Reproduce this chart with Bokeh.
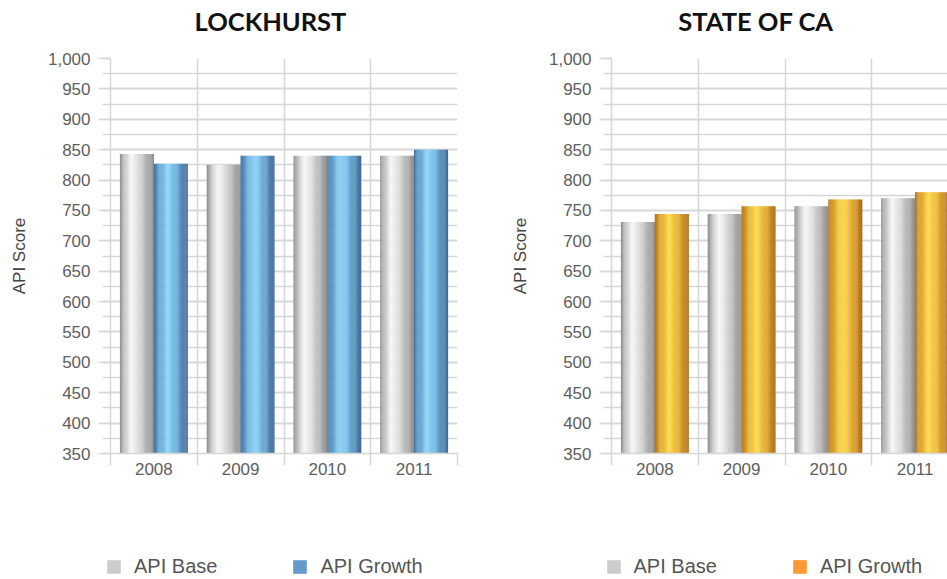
from bokeh.plotting import figure
from bokeh.layouts import row, column
from bokeh.models import (FixedTicker, SingleIntervalTicker, NumeralTickFormatter, Range1d,
                          Legend, LegendItem, Label)
from bokeh.embed import file_html
from bokeh.resources import INLINE

# ---------------- data ----------------
years = ["2008", "2009", "2010", "2011"]
lock_base = [843, 825, 840, 840]
lock_growth = [827, 840, 840, 850]
ca_base = [731, 744, 757, 770]
ca_growth = [744, 757, 768, 780]
series_names = ["API Base", "API Growth"]
titles = ["LOCKHURST", "STATE OF CA"]
y_label = "API Score"

# ---------------- styles ----------------
GRID = "#d6d6d6"
TICK_TXT = "#5e5e5e"
FONT = "Liberation Sans"
HEAD_H = 48
MAIN_H = 442
LEG_H = 89

grey_stops = [(0.0, "#8e8e8e"), (0.12, "#bdbdbd"), (0.33, "#f8f8f8"), (0.55, "#dcdcdc"),
              (0.82, "#acacac"), (1.0, "#8c8c8c")]
blue_stops = [(0.0, "#43709a"), (0.15, "#609ecc"), (0.4, "#8ed4f8"), (0.6, "#74bae5"),
              (0.85, "#5085b2"), (1.0, "#426990")]
gold_stops = [(0.0, "#b37318"), (0.15, "#daa02a"), (0.42, "#fdda4b"), (0.65, "#e9b638"),
              (0.88, "#c68720"), (1.0, "#a96a19")]


def hex2rgb(h):
    h = h.lstrip("#")
    return tuple(int(h[i:i + 2], 16) for i in (0, 2, 4))


def interp(stops, t):
    for (t0, c0), (t1, c1) in zip(stops[:-1], stops[1:]):
        if t0 <= t <= t1:
            f = (t - t0) / (t1 - t0) if t1 > t0 else 0
            a, b = hex2rgb(c0), hex2rgb(c1)
            return "#%02x%02x%02x" % tuple(int(round(a[i] + (b[i] - a[i]) * f)) for i in range(3))
    return stops[-1][1]


BAR_W = 0.39
OFFSETS = [-0.195, 0.195]


def gradient_bars(p, values, off, stops, n=30):
    xs, tops, cols = [], [], []
    for i, v in enumerate(values):
        for k in range(n):
            t = (k + 0.5) / n
            xs.append(i + off - BAR_W / 2 + t * BAR_W)
            tops.append(v)
            cols.append(interp(stops, t))
    p.vbar(x=xs, top=tops, bottom=350, width=BAR_W / n * 1.25,
           fill_color=cols, line_color=None)


def blank(width, height):
    f = figure(width=width, height=height, output_backend="svg", toolbar_location=None,
               x_range=Range1d(0, 1), y_range=Range1d(0, 1),
               x_axis_location=None, y_axis_location=None,
               min_border_left=0, min_border_right=0, min_border_top=0, min_border_bottom=0,
               outline_line_color=None)
    f.grid.visible = False
    return f


def header(title, width, cx):
    h = blank(width, HEAD_H)
    h.add_layout(Label(x=cx, y=28, x_units="screen", y_units="screen", text=title,
                       text_align="center", text_baseline="alphabetic", text_font="Lato",
                       text_font_size="25.5px", text_font_style="bold", text_color="#111111"))
    return h


def legend_fig(width, color, lx):
    f = blank(width, LEG_H)
    # legend-only swatches, kept outside the visible range
    r1 = f.quad(left=[-3], right=[-2], top=[-2], bottom=[-3], fill_color="#cccccc",
                line_color=None)
    r2 = f.quad(left=[-3], right=[-2], top=[-2], bottom=[-3], fill_color=color,
                line_color=None)
    leg = Legend(items=[LegendItem(label=series_names[0], renderers=[r1]),
                        LegendItem(label=series_names[1], renderers=[r2])],
                 orientation="horizontal", location=(lx, 1),
                 glyph_width=17, glyph_height=17, label_standoff=12, spacing=74,
                 padding=0, margin=0, border_line_color=None, background_fill_alpha=0,
                 label_text_font=FONT, label_text_font_size="20px",
                 label_text_color="#555555")
    f.add_layout(leg)
    return f


def make_chart(base, growth, growth_stops, width, bl, br, x_end):
    p = figure(width=width, height=MAIN_H, output_backend="svg", toolbar_location=None,
               x_range=Range1d(-0.5, x_end), y_range=Range1d(350, 1000),
               min_border_left=bl, min_border_right=br, min_border_top=10,
               min_border_bottom=37, outline_line_color=None)

    gradient_bars(p, base, OFFSETS[0], grey_stops)
    gradient_bars(p, growth, OFFSETS[1], growth_stops)

    # x axis
    xa = p.xaxis[0]
    xa.ticker = FixedTicker(ticks=list(range(len(years))),
                            minor_ticks=[i - 0.5 for i in range(len(years) + 1)])
    xa.major_label_overrides = {i: y for i, y in enumerate(years)}
    xa.major_tick_out = 0
    xa.major_tick_in = 0
    xa.minor_tick_out = 12
    xa.minor_tick_in = 0
    xa.minor_tick_line_color = GRID
    xa.minor_tick_line_width = 1.5
    xa.axis_line_color = GRID
    xa.axis_line_width = 1.5
    xa.major_label_standoff = -3
    xa.major_label_text_font = FONT
    xa.major_label_text_font_size = "17px"
    xa.major_label_text_color = TICK_TXT

    p.xgrid.ticker = FixedTicker(ticks=[i - 0.5 for i in range(len(years) + 1)])
    p.xgrid.grid_line_color = GRID
    p.xgrid.grid_line_width = 1.5

    # y axis
    ya = p.yaxis[0]
    ya.ticker = SingleIntervalTicker(interval=50, num_minor_ticks=2)
    ya.formatter = NumeralTickFormatter(format="0,0")
    ya.major_tick_out = 12
    ya.major_tick_in = 0
    ya.minor_tick_out = 8
    ya.minor_tick_in = 0
    ya.major_tick_line_color = GRID
    ya.minor_tick_line_color = GRID
    ya.major_tick_line_width = 1.5
    ya.minor_tick_line_width = 1.5
    ya.axis_line_color = GRID
    ya.axis_line_width = 1.5
    ya.major_label_standoff = 8
    ya.major_label_text_font = FONT
    ya.major_label_text_font_size = "17px"
    ya.major_label_text_color = TICK_TXT
    ya.axis_label = y_label
    ya.axis_label_text_font = FONT
    ya.axis_label_text_font_size = "17px"
    ya.axis_label_text_font_style = "normal"
    ya.axis_label_text_color = "#444444"
    ya.axis_label_standoff = 16

    p.ygrid.grid_line_color = GRID
    p.ygrid.grid_line_width = 1.5
    p.ygrid.minor_grid_line_color = GRID
    p.ygrid.minor_grid_line_width = 1.5
    return p


W1, W2 = 490, 457
p1 = make_chart(lock_base, lock_growth, blue_stops, W1, 110, 33, 3.5)
p2 = make_chart(ca_base, ca_growth, gold_stops, W2, 121, 0, -0.5 + 336 / 86.75)
h1 = header(titles[0], W1, 270)
h2 = header(titles[1], W2, 755.5 - W1)
l1 = legend_fig(W1, "#6699cc", 105)
l2 = legend_fig(W2, "#ff9933", 604.5 - W1)

layout = column(row(h1, h2), row(p1, p2), row(l1, l2))
open("out.html", "w").write(file_html(layout, INLINE))
